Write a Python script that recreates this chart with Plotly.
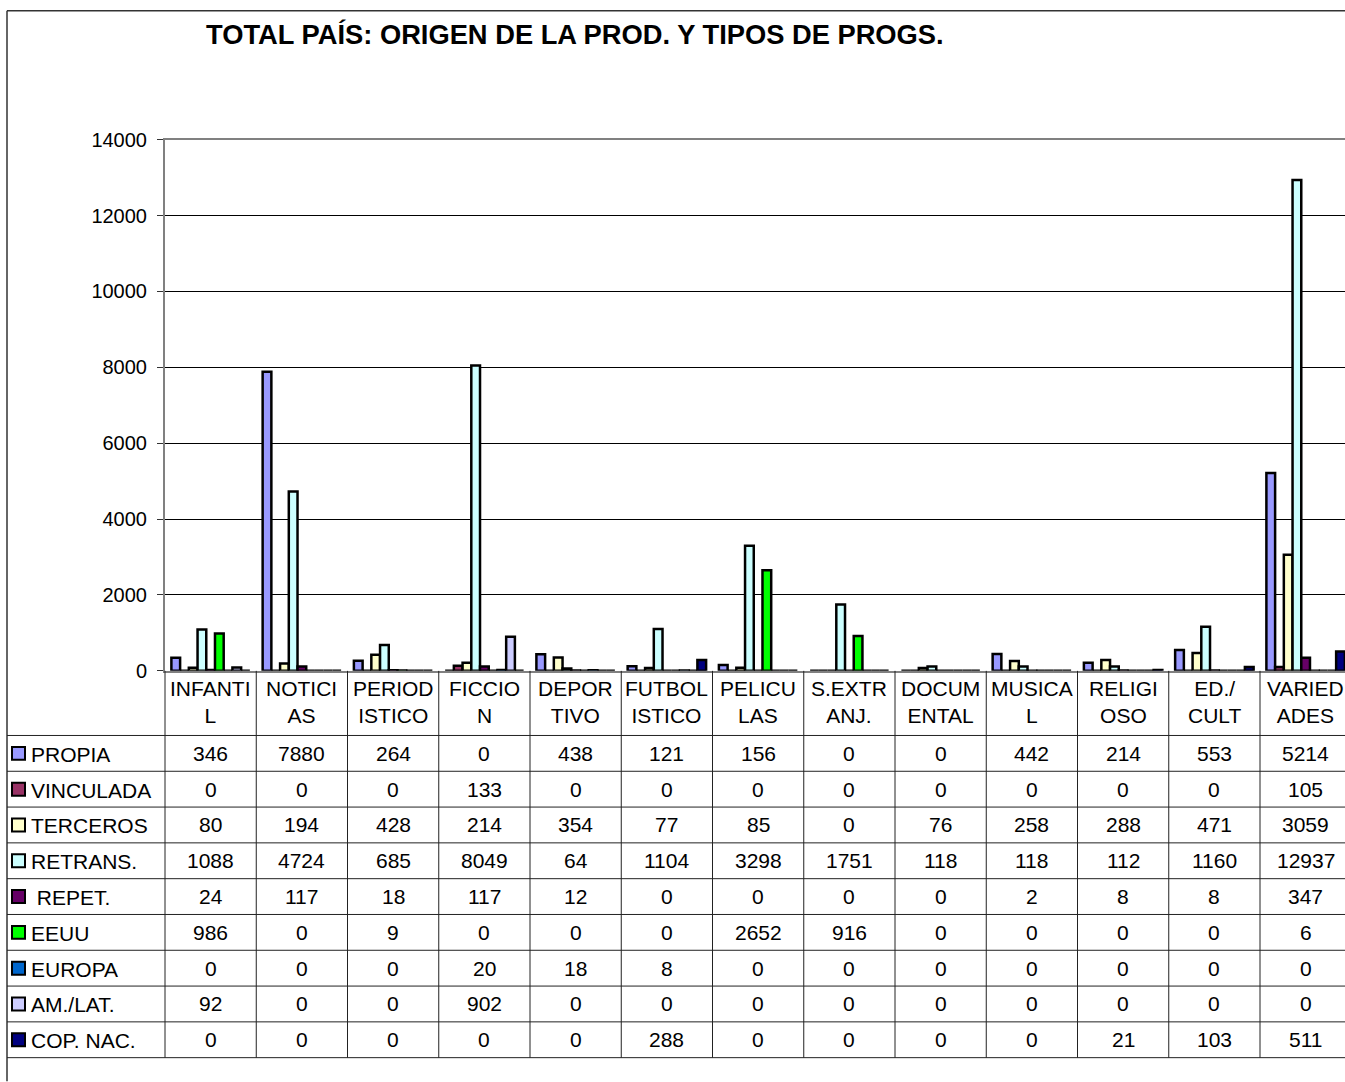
import plotly.graph_objects as go

# Program types (two-line labels as printed in the table header)
categories = [
    "INFANTI<br>L", "NOTICI<br>AS", "PERIOD<br>ISTICO", "FICCIO<br>N",
    "DEPOR<br>TIVO", "FUTBOL<br>ISTICO", "PELICU<br>LAS", "S.EXTR<br>ANJ.",
    "DOCUM<br>ENTAL", "MUSICA<br>L", "RELIGI<br>OSO", "ED./<br>CULT",
    "VARIED<br>ADES",
]

# Origin of the production, hours per program type
propia = [346, 7880, 264, 0, 438, 121, 156, 0, 0, 442, 214, 553, 5214]
vinculada = [0, 0, 0, 133, 0, 0, 0, 0, 0, 0, 0, 0, 105]
terceros = [80, 194, 428, 214, 354, 77, 85, 0, 76, 258, 288, 471, 3059]
retrans = [1088, 4724, 685, 8049, 64, 1104, 3298, 1751, 118, 118, 112, 1160, 12937]
repet = [24, 117, 18, 117, 12, 0, 0, 0, 0, 2, 8, 8, 347]
eeuu = [986, 0, 9, 0, 0, 0, 2652, 916, 0, 0, 0, 0, 6]
europa = [0, 0, 0, 20, 18, 8, 0, 0, 0, 0, 0, 0, 0]
amlat = [92, 0, 0, 902, 0, 0, 0, 0, 0, 0, 0, 0, 0]
copnac = [0, 0, 0, 0, 0, 288, 0, 0, 0, 0, 21, 103, 511]

series_names = ["PROPIA", "VINCULADA", "TERCEROS", "RETRANS.", " REPET.",
                "EEUU", "EUROPA", "AM./LAT.", "COP. NAC."]
series_values = [propia, vinculada, terceros, retrans, repet,
                 eeuu, europa, amlat, copnac]
series_colors = ["#9999FF", "#993366", "#FFFFCC", "#CCFFFF", "#660066",
                 "#00FF00", "#0066CC", "#CCCCFF", "#000080"]

y_ticks = [0, 2000, 4000, 6000, 8000, 10000, 12000, 14000]

W, H = 1345, 1082
FONT = "Liberation Sans, Arial, sans-serif"
TXT = 21

# page geometry (pixels)
PLOT_L = 165
CAT_W = 91.25
AXIS_Y = 671
TOP_Y = 139
ROW0 = 735.7
ROW_H = 35.85
FRAME_L = 7
FRAME_T = 10

# vertical pixel -> paper mapping
Y_OFF = 10.2
Y_SPAN = 1061.5


def px(x):
    return x / W


def py(y):
    return 1 - (y - Y_OFF) / Y_SPAN


n_cat = len(categories)
idx = list(range(n_cat))

fig = go.Figure()
for name, vals, col in zip(series_names, series_values, series_colors):
    fig.add_trace(go.Bar(
        x=idx, y=vals, name=name,
        marker=dict(color=col, line=dict(color="black", width=2.5)),
        showlegend=False,
    ))

x_end = -0.5 + (W - PLOT_L) / CAT_W

shapes = []
annotations = []

# outer chart frame
shapes.append(dict(type="line", xref="paper", yref="paper",
                   x0=px(FRAME_L), x1=1, y0=py(FRAME_T), y1=py(FRAME_T),
                   line=dict(color="#333333", width=1.5)))
shapes.append(dict(type="line", xref="paper", yref="paper",
                   x0=px(FRAME_L), x1=px(FRAME_L), y0=py(FRAME_T), y1=py(H),
                   line=dict(color="#333333", width=1.5)))

# data table: horizontal rules
for k in range(len(series_names) + 1):
    yy = ROW0 + k * ROW_H
    shapes.append(dict(type="line", xref="paper", yref="paper",
                       x0=px(FRAME_L), x1=1, y0=py(yy), y1=py(yy),
                       line=dict(color="#222222", width=1)))

# data table: vertical rules on category boundaries
for i in range(n_cat + 1):
    xx = PLOT_L + i * CAT_W
    if xx > W:
        continue
    shapes.append(dict(type="line", xref="paper", yref="paper",
                       x0=px(xx), x1=px(xx), y0=py(AXIS_Y),
                       y1=py(ROW0 + len(series_names) * ROW_H),
                       line=dict(color="#222222", width=1)))

# header row: category labels
for i, lab in enumerate(categories):
    annotations.append(dict(x=i, xref="x", y=py((AXIS_Y + ROW0) / 2 - 1.5),
                            yref="paper", text=lab, showarrow=False,
                            xanchor="center", yanchor="middle",
                            font=dict(family=FONT, size=TXT, color="black")))

# table body: legend key, series name and values
for k, (name, vals, col) in enumerate(zip(series_names, series_values,
                                           series_colors)):
    yc = ROW0 + k * ROW_H + ROW_H / 2
    shapes.append(dict(type="rect", xref="paper", yref="paper",
                       x0=px(12), x1=px(25), y0=py(yc - 6.5), y1=py(yc + 6.5),
                       fillcolor=col, line=dict(color="black", width=2)))
    label = "&nbsp;" + name.strip() if name.startswith(" ") else name
    annotations.append(dict(x=px(29), xref="paper", y=py(yc + 1), yref="paper",
                            text=label, showarrow=False,
                            xanchor="left", yanchor="middle",
                            font=dict(family=FONT, size=TXT, color="black")))
    for i, v in enumerate(vals):
        annotations.append(dict(x=i, xref="x", y=py(yc), yref="paper",
                                text=str(v), showarrow=False,
                                xanchor="center", yanchor="middle",
                                font=dict(family=FONT, size=TXT, color="black")))

# title
annotations.append(dict(x=px(204), xref="paper", y=py(34), yref="paper",
                        text="<b>TOTAL PAÍS: ORIGEN DE LA PROD. Y TIPOS DE PROGS.</b>",
                        showarrow=False, xanchor="left", yanchor="middle",
                        font=dict(family=FONT, size=27.3, color="black")))

fig.update_layout(
    width=W, height=H,
    margin=dict(l=0, r=0, t=0, b=0),
    paper_bgcolor="white", plot_bgcolor="white",
    barmode="group", bargap=0.14, bargroupgap=0,
    shapes=shapes, annotations=annotations,
    xaxis=dict(domain=[px(PLOT_L), 1], range=[-0.5, x_end],
               showticklabels=False, ticks="", showgrid=False,
               showline=True, linecolor="#808080", linewidth=2,
               mirror=True, zeroline=False, fixedrange=True),
    yaxis=dict(domain=[py(AXIS_Y), py(TOP_Y)], range=[0, 14000],
               tickvals=y_ticks, tickformat="d", ticks="outside", ticklen=6,
               tickcolor="#333333", tickwidth=1, ticklabelstandoff=6,
               showgrid=True, gridcolor="black", gridwidth=1,
               showline=True, linecolor="#808080", linewidth=2,
               zeroline=False,
               tickfont=dict(family=FONT, size=20, color="black")),
    font=dict(family=FONT, size=TXT, color="black"),
)

fig.write_html("out.html")
